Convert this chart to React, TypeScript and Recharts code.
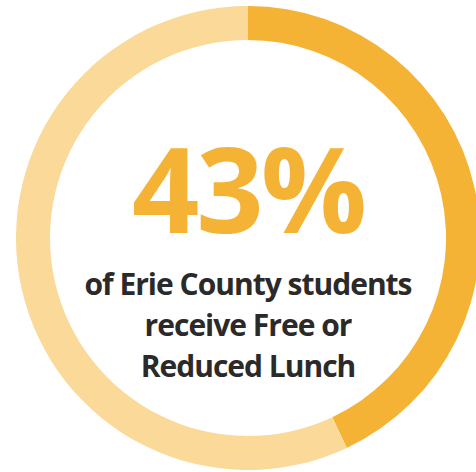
import { PieChart, Pie, Cell, Label } from "recharts";

const SEGMENTS = ["Free or Reduced Lunch", "Other students"];
const SHARES = [43, 57];
const COLORS = ["#F5B335", "#FAD999"];
const HEADLINE = "43%";
const CAPTION = ["of Erie County students", "receive Free or", "Reduced Lunch"];

const data = SEGMENTS.map((name, i) => ({ name, value: SHARES[i] }));

function CenterText(props: any) {
  const vb = props.viewBox || {};
  const cx = vb.cx ?? 248;
  const cy = vb.cy ?? 238;
  return (
    <g>
      <text
        x={cx}
        y={cy - 5}
        textAnchor="middle"
        fill="#F5B335"
        fontFamily="'Open Sans', sans-serif"
        fontWeight={700}
        fontSize={118}
        letterSpacing={-3}
      >
        {HEADLINE}
      </text>
      {CAPTION.map((line, i) => (
        <text
          key={i}
          x={cx}
          y={cy + 57 + i * 41}
          textAnchor="middle"
          fill="#2b2a29"
          fontFamily="'Open Sans', sans-serif"
          fontWeight={700}
          fontSize={30}
          letterSpacing={-1}
        >
          {line}
        </text>
      ))}
    </g>
  );
}

export default function App() {
  return (
    <div style={{ position: "absolute", left: 0, top: 0, width: 476, height: 472, background: "#fff" }}>
      <PieChart width={476} height={472} margin={{ top: 0, right: 0, bottom: 0, left: 0 }}>
        <Pie
          data={data}
          dataKey="value"
          nameKey="name"
          cx={248}
          cy={238}
          innerRadius={198}
          outerRadius={232}
          startAngle={90}
          endAngle={-270}
          stroke="none"
          isAnimationActive={false}
        >
          {data.map((_, i) => (
            <Cell key={i} fill={COLORS[i]} />
          ))}
          <Label position="center" content={<CenterText />} />
        </Pie>
      </PieChart>
    </div>
  );
}
